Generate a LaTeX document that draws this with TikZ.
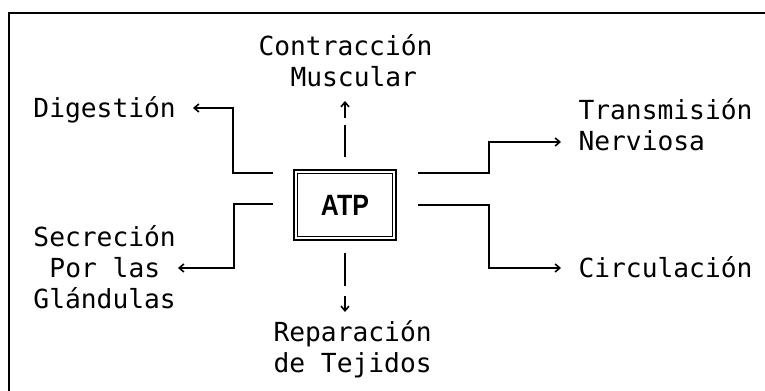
\documentclass[tikz,border=0pt]{standalone}
\usepackage{fontspec}
\newfontfamily\labelfont{DejaVu Sans Mono}
\newfontfamily\atpfont{Liberation Sans}
\usetikzlibrary{arrows.meta}
\tikzset{every picture/.style={line width=0.75pt}}

\begin{document}
\begin{tikzpicture}[x=0.75pt,y=0.75pt,yscale=-1,xscale=1,
	lbl/.style={font=\labelfont\fontsize{19.7}{23.6}\selectfont, inner sep=0pt},
	conn/.style={line width=1.2pt},
	tip/.style={-{Straight Barb[length=3.5pt,width=6pt]}}]
	\useasboundingbox (0,0) rectangle (765,391);
	
	%Frame
	\draw[line width=1.5pt] (9,391) -- (9,13) -- (765,13) ;
	
	%ATP box
	\node[draw, double, double distance=1.6pt, line width=1.1pt, minimum width=73.7pt, minimum height=49.9pt, inner sep=0pt, font=\atpfont\bfseries\fontsize{22}{22}\selectfont] (atp) at (345,205) {\scalebox{0.85}[1]{ATP}};
	
	% Text Nodes (base = last line)
	\node[lbl, anchor=base west, align=left] (con) at (258,87) {Contracción\\\hspace*{24pt}Muscular};
	\node[lbl, anchor=base west] (dig) at (33,118) {Digestión};
	\node[lbl, anchor=base west, align=left] (tra) at (578,151) {Transmisión\\Nerviosa};
	\node[lbl, anchor=base west, align=left] (sec) at (33,309) {Secreción\\\hspace*{12pt}Por las\\Glándulas};
	\node[lbl, anchor=base west] (cir) at (578,278) {Circulación};
	\node[lbl, anchor=base west, align=left] (rep) at (273,373) {Reparación\\de Tejidos};
	
	%Stub and arrow ends
	\coordinate (dgs) at (273,173);
	\coordinate (dge) at (193,108);
	\coordinate (scs) at (273,204);
	\coordinate (sce) at (178,268);
	\coordinate (trs) at (418,173);
	\coordinate (tre) at (561,142);
	\coordinate (cis) at (418,205);
	\coordinate (cie) at (561,268);
	\coordinate (ups) at (345,157);
	\coordinate (upe) at (345,125);
	\coordinate (upa) at (345,118);
	\coordinate (upt) at (345,101);
	\coordinate (dns) at (345,253);
	\coordinate (dne) at (345,286);
	\coordinate (dna) at (345,296);
	\coordinate (dnt) at (345,312);
	
	%Connectors
	\draw[conn,tip] (dgs) -- ++(-40,0) |- (dge) ;
	\draw[conn,tip] (scs) -- ++(-39,0) |- (sce) ;
	\draw[conn,tip] (trs) -- ++(71,0) |- (tre) ;
	\draw[conn,tip] (cis) -- ++(71,0) |- (cie) ;
	\draw[conn] (ups) -- (upe) ;
	\draw[conn,tip] (upa) -- (upt) ;
	\draw[conn] (dns) -- (dne) ;
	\draw[conn,tip] (dna) -- (dnt) ;
	
\end{tikzpicture}
\end{document}
